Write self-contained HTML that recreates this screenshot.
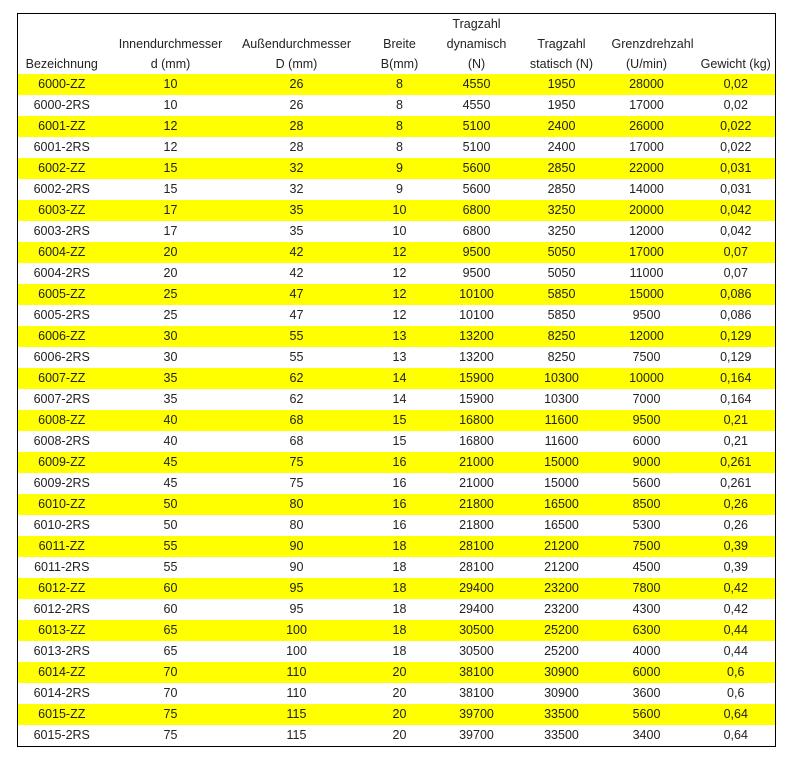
<!DOCTYPE html>
<html><head><meta charset="utf-8"><style>
body{margin:0;background:#fff;}
table{position:absolute;left:17px;top:13px;border:1px solid #000;border-collapse:collapse;table-layout:fixed;width:758px;font-family:"Liberation Sans","DejaVu Sans",sans-serif;font-size:12.5px;color:#222;}
td,th{padding:0;text-align:center;white-space:nowrap;font-weight:normal;}
th{vertical-align:bottom;line-height:20px;padding-bottom:0;}
thead tr{height:59px;}
tbody tr{height:21px;line-height:21px;}
tbody tr:nth-child(odd){background:#ffff00;}
td:last-child,th:last-child{padding-left:15px;}
</style></head><body>
<table>
<colgroup><col style="width:88px"><col style="width:130px"><col style="width:122px"><col style="width:84px"><col style="width:70px"><col style="width:100px"><col style="width:70px"><col style="width:94px"></colgroup>
<thead><tr><th>Bezeichnung</th><th>Innendurchmesser<br>d (mm)</th><th>Außendurchmesser<br>D (mm)</th><th>Breite<br>B(mm)</th><th>Tragzahl<br>dynamisch<br>(N)</th><th>Tragzahl<br>statisch (N)</th><th>Grenzdrehzahl<br>(U/min)</th><th>Gewicht (kg)</th></tr></thead>
<tbody>
<tr><td>6000-ZZ</td><td>10</td><td>26</td><td>8</td><td>4550</td><td>1950</td><td>28000</td><td>0,02</td></tr>
<tr><td>6000-2RS</td><td>10</td><td>26</td><td>8</td><td>4550</td><td>1950</td><td>17000</td><td>0,02</td></tr>
<tr><td>6001-ZZ</td><td>12</td><td>28</td><td>8</td><td>5100</td><td>2400</td><td>26000</td><td>0,022</td></tr>
<tr><td>6001-2RS</td><td>12</td><td>28</td><td>8</td><td>5100</td><td>2400</td><td>17000</td><td>0,022</td></tr>
<tr><td>6002-ZZ</td><td>15</td><td>32</td><td>9</td><td>5600</td><td>2850</td><td>22000</td><td>0,031</td></tr>
<tr><td>6002-2RS</td><td>15</td><td>32</td><td>9</td><td>5600</td><td>2850</td><td>14000</td><td>0,031</td></tr>
<tr><td>6003-ZZ</td><td>17</td><td>35</td><td>10</td><td>6800</td><td>3250</td><td>20000</td><td>0,042</td></tr>
<tr><td>6003-2RS</td><td>17</td><td>35</td><td>10</td><td>6800</td><td>3250</td><td>12000</td><td>0,042</td></tr>
<tr><td>6004-ZZ</td><td>20</td><td>42</td><td>12</td><td>9500</td><td>5050</td><td>17000</td><td>0,07</td></tr>
<tr><td>6004-2RS</td><td>20</td><td>42</td><td>12</td><td>9500</td><td>5050</td><td>11000</td><td>0,07</td></tr>
<tr><td>6005-ZZ</td><td>25</td><td>47</td><td>12</td><td>10100</td><td>5850</td><td>15000</td><td>0,086</td></tr>
<tr><td>6005-2RS</td><td>25</td><td>47</td><td>12</td><td>10100</td><td>5850</td><td>9500</td><td>0,086</td></tr>
<tr><td>6006-ZZ</td><td>30</td><td>55</td><td>13</td><td>13200</td><td>8250</td><td>12000</td><td>0,129</td></tr>
<tr><td>6006-2RS</td><td>30</td><td>55</td><td>13</td><td>13200</td><td>8250</td><td>7500</td><td>0,129</td></tr>
<tr><td>6007-ZZ</td><td>35</td><td>62</td><td>14</td><td>15900</td><td>10300</td><td>10000</td><td>0,164</td></tr>
<tr><td>6007-2RS</td><td>35</td><td>62</td><td>14</td><td>15900</td><td>10300</td><td>7000</td><td>0,164</td></tr>
<tr><td>6008-ZZ</td><td>40</td><td>68</td><td>15</td><td>16800</td><td>11600</td><td>9500</td><td>0,21</td></tr>
<tr><td>6008-2RS</td><td>40</td><td>68</td><td>15</td><td>16800</td><td>11600</td><td>6000</td><td>0,21</td></tr>
<tr><td>6009-ZZ</td><td>45</td><td>75</td><td>16</td><td>21000</td><td>15000</td><td>9000</td><td>0,261</td></tr>
<tr><td>6009-2RS</td><td>45</td><td>75</td><td>16</td><td>21000</td><td>15000</td><td>5600</td><td>0,261</td></tr>
<tr><td>6010-ZZ</td><td>50</td><td>80</td><td>16</td><td>21800</td><td>16500</td><td>8500</td><td>0,26</td></tr>
<tr><td>6010-2RS</td><td>50</td><td>80</td><td>16</td><td>21800</td><td>16500</td><td>5300</td><td>0,26</td></tr>
<tr><td>6011-ZZ</td><td>55</td><td>90</td><td>18</td><td>28100</td><td>21200</td><td>7500</td><td>0,39</td></tr>
<tr><td>6011-2RS</td><td>55</td><td>90</td><td>18</td><td>28100</td><td>21200</td><td>4500</td><td>0,39</td></tr>
<tr><td>6012-ZZ</td><td>60</td><td>95</td><td>18</td><td>29400</td><td>23200</td><td>7800</td><td>0,42</td></tr>
<tr><td>6012-2RS</td><td>60</td><td>95</td><td>18</td><td>29400</td><td>23200</td><td>4300</td><td>0,42</td></tr>
<tr><td>6013-ZZ</td><td>65</td><td>100</td><td>18</td><td>30500</td><td>25200</td><td>6300</td><td>0,44</td></tr>
<tr><td>6013-2RS</td><td>65</td><td>100</td><td>18</td><td>30500</td><td>25200</td><td>4000</td><td>0,44</td></tr>
<tr><td>6014-ZZ</td><td>70</td><td>110</td><td>20</td><td>38100</td><td>30900</td><td>6000</td><td>0,6</td></tr>
<tr><td>6014-2RS</td><td>70</td><td>110</td><td>20</td><td>38100</td><td>30900</td><td>3600</td><td>0,6</td></tr>
<tr><td>6015-ZZ</td><td>75</td><td>115</td><td>20</td><td>39700</td><td>33500</td><td>5600</td><td>0,64</td></tr>
<tr><td>6015-2RS</td><td>75</td><td>115</td><td>20</td><td>39700</td><td>33500</td><td>3400</td><td>0,64</td></tr>
</tbody></table>
</body></html>
